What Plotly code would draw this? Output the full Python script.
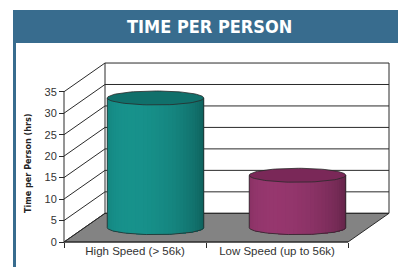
import numpy as np
import plotly.graph_objects as go

# ---- data ----
categories = ["High Speed (> 56k)", "Low Speed (up to 56k)"]
hours = [30.2, 12.2]
tick_values = [0, 5, 10, 15, 20, 25, 30, 35]
title_text = "TIME PER PERSON"
y_title = "Time per Person (hrs)"

# ---- styling / geometry ----
W, H = 398, 267
body_colors = [(22, 138, 132), (142, 52, 104)]
top_colors = [(16, 112, 107), (122, 40, 88)]
floor_color = "#838383"
line_color = "#2a2a2a"
DX, DY = 0.2887, 6.684          # depth offset (x units, y units)
RX, RY = 0.34, 1.63             # cylinder radii
YMAX = 35
COND = "DejaVu Sans Condensed, Liberation Sans Narrow, Arial Narrow, sans-serif"

fig = go.Figure()

def line(xs, ys, color=line_color, width=1):
    fig.add_trace(go.Scatter(x=xs, y=ys, mode="lines", line=dict(color=color, width=width),
                             hoverinfo="skip", showlegend=False))

def poly(xs, ys, fill, lc=None, lw=0):
    fig.add_trace(go.Scatter(x=list(xs) + [xs[0]], y=list(ys) + [ys[0]], mode="lines",
                             fill="toself", fillcolor=fill,
                             line=dict(color=lc or fill, width=lw),
                             hoverinfo="skip", showlegend=False))

x0, x1 = -0.5, len(categories) - 0.5

# floor
poly([x0, x1, x1 + DX, x0 + DX], [0, 0, DY, DY], floor_color, line_color, 1)

# back wall horizontal grid lines and walls
for v in tick_values:
    line([x0 + DX, x1 + DX], [v + DY, v + DY])
    line([x0, x0 + DX], [v, v + DY])
line([x0 + DX, x0 + DX], [DY, YMAX + DY])
line([x1 + DX, x1 + DX], [DY, YMAX + DY])
line([x0, x0], [0, YMAX])
line([x0, x1], [0, 0])

def rgb(c, f):
    return "rgb(%d,%d,%d)" % tuple(int(max(0, min(255, ch * f))) for ch in c)

# cylinders
N = 36
for i, v in enumerate(hours):
    cx = i + DX / 2
    yb = DY / 2
    yt = v + DY / 2
    th = np.linspace(np.pi, 0, N + 1)
    for k in range(N):
        ta, tb = th[k], th[k + 1]
        tm = 0.5 * (ta + tb)
        f = 0.80 + 0.26 * np.cos(tm - 2.1)
        rest = th[k:]
        px = [cx + RX * np.cos(ta), cx + RX] + list(cx + RX * np.cos(rest[::-1]))
        py = [yt, yt] + list(yb - RY * np.sin(rest[::-1]))
        poly(px, py, rgb(body_colors[i], f), None, 0)
    # outline of body
    arc = np.linspace(np.pi, 0, 60)
    line([cx - RX, cx - RX], [yb, yt], width=0.8)
    line([cx + RX, cx + RX], [yb, yt], width=0.8)
    line(list(cx + RX * np.cos(arc)), list(yb - RY * np.sin(arc)), width=0.8)
    # top ellipse
    full = np.linspace(0, 2 * np.pi, 90)
    poly(list(cx + RX * np.cos(full)), list(yt + RY * np.sin(full)),
         rgb(top_colors[i], 1.0), line_color, 0.8)

fig.update_layout(
    width=W, height=H,
    margin=dict(l=0, r=0, t=0, b=0),
    paper_bgcolor="white", plot_bgcolor="white",
    showlegend=False,
    xaxis=dict(range=[-0.9507, 1.852], showgrid=False, zeroline=False, showline=False,
               anchor="free", position=25 / H,
               tickmode="array", tickvals=list(range(len(categories))), ticktext=categories,
               ticks="", tickfont=dict(family="Liberation Sans, Arial", size=11.5, color="#333"),
               minor=dict(tickmode="array", tickvals=[x0 + 1.0 * j for j in range(len(categories) + 1)],
                          ticks="outside", ticklen=5, tickcolor=line_color, showgrid=False),
               fixedrange=True),
    yaxis=dict(range=[-5.822, 56.36], showgrid=False, zeroline=False, showline=False,
               anchor="free", position=64 / W,
               tickmode="array", tickvals=tick_values,
               ticks="outside", ticklen=5, tickcolor=line_color,
               tickfont=dict(family="Liberation Sans, Arial", size=11, color="#333"),
               fixedrange=True),
    shapes=[
        dict(type="rect", xref="paper", yref="paper", x0=13 / W, x1=1, y0=1 - 43 / H, y1=1 - 10 / H,
             fillcolor="#386c8e", line=dict(width=0), layer="above"),
        dict(type="rect", xref="paper", yref="paper", x0=13 / W, x1=16 / W, y0=0, y1=1 - 43 / H,
             fillcolor="#386c8e", line=dict(width=0), layer="above"),
    ],
    annotations=[
        dict(text="<b>%s</b>" % title_text, xref="paper", yref="paper", x=210 / W, y=1 - 26.5 / H,
             showarrow=False, font=dict(family=COND, size=18, color="white"),
             xanchor="center", yanchor="middle"),
        dict(text="<b>%s</b>" % y_title, xref="paper", yref="paper", x=28 / W, y=1 - 163 / H,
             textangle=-90, showarrow=False,
             font=dict(family=COND, size=9, color="#222"),
             xanchor="center", yanchor="middle"),
    ],
)

fig.write_html("out.html", config={"displayModeBar": False},
               post_script="document.body.style.margin='0';")
